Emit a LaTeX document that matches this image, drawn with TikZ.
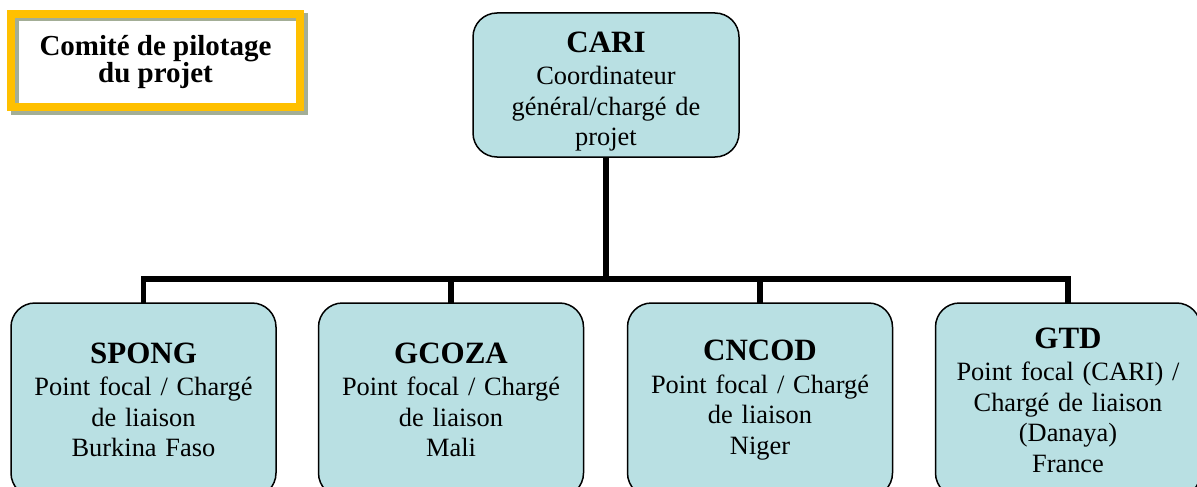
\documentclass[tikz,border=0pt]{standalone}
\usepackage{fontspec}
\setmainfont{Liberation Serif}
\usetikzlibrary{backgrounds}
\definecolor{boxfill}{RGB}{185,224,227}
\definecolor{frameyellow}{RGB}{255,192,0}
\definecolor{shadowgreen}{RGB}{163,174,150}
\newcommand\orgtitle[1]{{\fontsize{31}{32}\selectfont\bfseries #1\par}\vspace{2pt}}
\begin{document}
\begin{tikzpicture}[x=1pt,y=-1pt,
  orgbox/.style={draw=black, line width=1.5pt, fill=boxfill, rounded corners=24pt,
    align=center, text width=258pt, inner sep=0pt, outer sep=0pt,
    minimum width=265pt, minimum height=194pt,
    font=\fontsize{26.4}{30.5}\selectfont},
  conn/.style={line width=5.7pt, line join=miter, draw=black},
  comitebox/.style={draw=frameyellow, line width=8pt, outer sep=0pt, inner sep=0pt,
    minimum width=289pt, minimum height=93pt, align=center,
    font=\fontsize{29}{27.5}\selectfont\bfseries},
]
\useasboundingbox (0,0) rectangle (1197,487);
\clip (0,0) rectangle (1197,487);

% steering committee
\node[comitebox] (com) at (155.5,60.5) {\rule{0pt}{23pt}Comité de pilotage\\du projet};
\begin{scope}[on background layer]
  \draw[shadowgreen, line width=8pt] ([shift={(3.5,3.5)}]com.south west) rectangle ([shift={(3.5,3.5)}]com.north east);
\end{scope}

% coordinator
\node[orgbox, minimum width=266pt, minimum height=144pt] (cari) at (606,85)
  {\orgtitle{\rule{0pt}{34pt}CARI}Coordinateur\\général/chargé de\\projet};

% partners
\node[orgbox] (spong) at (143.5,400) {\orgtitle{SPONG}Point focal / Chargé\\de liaison\\Burkina Faso};
\node[orgbox] (gcoza) at (451,400) {\orgtitle{GCOZA}Point focal / Chargé\\de liaison\\Mali};
\node[orgbox] (cncod) at (760,400) {\orgtitle{CNCOD}Point focal / Chargé\\de liaison\\Niger};
\node[orgbox] (gtd) at (1068,400) {\orgtitle{GTD}Point focal (CARI) /\\Chargé de liaison\\(Danaya)\\France};

% connectors
\coordinate (bus) at (606,279);
\draw[conn] (cari.south) -- (bus);
\draw[conn] (spong.north) -- (spong.north |- bus) -- (gtd.north |- bus) -- (gtd.north);
\draw[conn] (gcoza.north) -- (gcoza.north |- bus);
\draw[conn] (cncod.north) -- (cncod.north |- bus);
\end{tikzpicture}
\end{document}
